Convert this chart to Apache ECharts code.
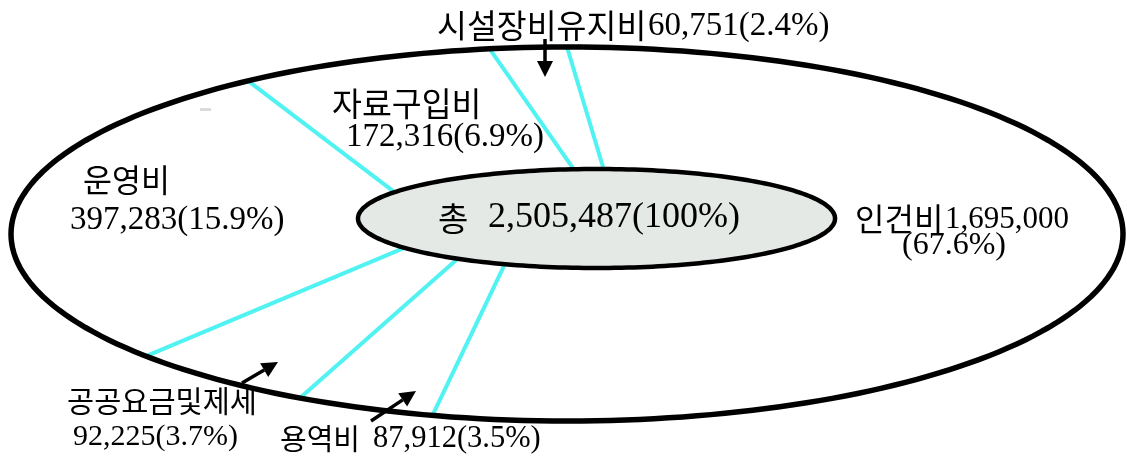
<!DOCTYPE html>
<html>
<head>
<meta charset="utf-8">
<title>예산 구성</title>
<script src="https://cdn.jsdelivr.net/npm/echarts@6/dist/echarts.min.js"></script>
<style>
  html, body { margin: 0; padding: 0; background: #fff; }
  #chart { width: 1127px; height: 457px; }
</style>
</head>
<body>
<div id="chart"></div>
<script>
// 항목 (위쪽에서 시작해 시계방향)
var categories = ['인건비', '용역비', '공공요금및제세', '운영비', '자료구입비', '시설장비유지비'];
var amounts = [1695000, 87912, 92225, 397283, 172316, 60751];
var shares = [67.6, 3.5, 3.7, 15.9, 6.9, 2.4];
var totalAmount = 2505487;
var totalShare = 100;
// 그림에서 읽은 각 항목 끝 경계선 각도 (도, 바깥 타원 / 안쪽 타원)
var sliceEndOuterDeg = [256.0, 241.3, 220.8, 125.0, 98.0, 90.0];
var sliceEndInnerDeg = [247.4, 234.4, 216.3, 147.9, 95.5, 88.3];

var FN = 'Liberation Serif';
var FK = 'Noto Sans CJK KR';
var CYAN = '#50f2f2';
// 안쪽 타원 (바깥 타원을 -1..1 로 놓은 좌표)
var inner = { cx: 0.0531, cy: 0.0829, rx: 0.429, ry: 0.2647 };

function rad(d) { return d * Math.PI / 180; }
function fmt(v) { return v.toLocaleString('en-US'); }
function numLabel(i) { return fmt(amounts[i]) + '(' + shares[i].toFixed(1) + '%)'; }

function ellipsePoints(api, cx, cy, rx, ry) {
  var pts = [];
  for (var k = 0; k < 240; k++) {
    var t = k / 240 * Math.PI * 2;
    pts.push(api.coord([cx + rx * Math.cos(t), cy + ry * Math.sin(t)]));
  }
  return pts;
}

function renderBoundary(params, api) {
  var o = rad(api.value(0)), i = rad(api.value(1));
  var p1 = api.coord([inner.cx + inner.rx * Math.cos(i), inner.cy + inner.ry * Math.sin(i)]);
  var p2 = api.coord([Math.cos(o), Math.sin(o)]);
  return {
    type: 'line',
    shape: { x1: p1[0], y1: p1[1], x2: p2[0], y2: p2[1] },
    style: { stroke: CYAN, lineWidth: 4 }
  };
}

function renderRings(params, api) {
  return {
    type: 'group',
    children: [
      {
        type: 'polygon',
        shape: { points: ellipsePoints(api, 0, 0, 1, 1) },
        style: { fill: 'none', stroke: '#000', lineWidth: 5.5 }
      },
      {
        type: 'polygon',
        shape: { points: ellipsePoints(api, inner.cx, inner.cy, inner.rx, inner.ry) },
        style: { fill: '#e5e9e6', stroke: '#000', lineWidth: 4.5 }
      }
    ]
  };
}

function txt(text, x, y, family, size) {
  return {
    type: 'text', x: x, y: y, z: 10,
    style: { text: text, fontFamily: family, fontSize: size, fill: '#000', align: 'left', verticalAlign: 'middle' }
  };
}

function arrow(x1, y1, x2, y2) {
  var a = Math.atan2(y2 - y1, x2 - x1), len = 16, hw = 8;
  var bx = x2 - len * Math.cos(a), by = y2 - len * Math.sin(a);
  var nx = -Math.sin(a) * hw, ny = Math.cos(a) * hw;
  return {
    type: 'group', z: 10,
    children: [
      { type: 'line', shape: { x1: x1, y1: y1, x2: bx, y2: by }, style: { stroke: '#000', lineWidth: 3.5 } },
      { type: 'polygon', shape: { points: [[x2, y2], [bx + nx, by + ny], [bx - nx, by - ny]] }, style: { fill: '#000' } }
    ]
  };
}

var chart = echarts.init(document.getElementById('chart'));
chart.setOption({
  backgroundColor: '#fff',
  animation: false,
  grid: { left: 11, top: 47, width: 1112, height: 374 },
  xAxis: { type: 'value', min: -1, max: 1, show: false },
  yAxis: { type: 'value', min: -1, max: 1, show: false },
  series: [
    {
      type: 'custom',
      renderItem: renderBoundary,
      encode: { x: 0, y: 1 },
      data: sliceEndOuterDeg.map(function (d, k) { return [d, sliceEndInnerDeg[k]]; })
    },
    {
      type: 'custom',
      renderItem: renderRings,
      data: [[0, 0]]
    }
  ],
  graphic: [
    { type: 'rect', shape: { x: 200, y: 108, width: 11, height: 3 }, style: { fill: '#d9ddd9' } },
    txt(categories[5], 437, 26, FK, 32.5),
    txt(numLabel(5), 648, 26, FN, 33),
    txt(categories[4], 332, 104, FK, 32.5),
    txt(numLabel(4), 346, 137, FN, 33),
    txt(categories[3], 83, 180, FK, 31.5),
    txt(numLabel(3), 70, 220, FN, 33),
    txt('총', 438, 218, FK, 33),
    txt(fmt(totalAmount) + '(' + totalShare + '%)', 488, 218, FN, 36),
    txt(categories[0], 855, 219, FK, 32),
    txt(fmt(amounts[0]), 945, 220, FN, 31),
    txt('(' + shares[0].toFixed(1) + '%)', 902, 246, FN, 32),
    txt(categories[2], 67, 401, FK, 29.5),
    txt(numLabel(2), 73, 437, FN, 30),
    txt(categories[1], 280, 439, FK, 29),
    txt(numLabel(1), 373, 439, FN, 30.5),
    arrow(545, 39, 545, 77),
    arrow(242, 383, 278, 362),
    arrow(371, 421, 416, 391)
  ]
});
</script>
</body>
</html>
